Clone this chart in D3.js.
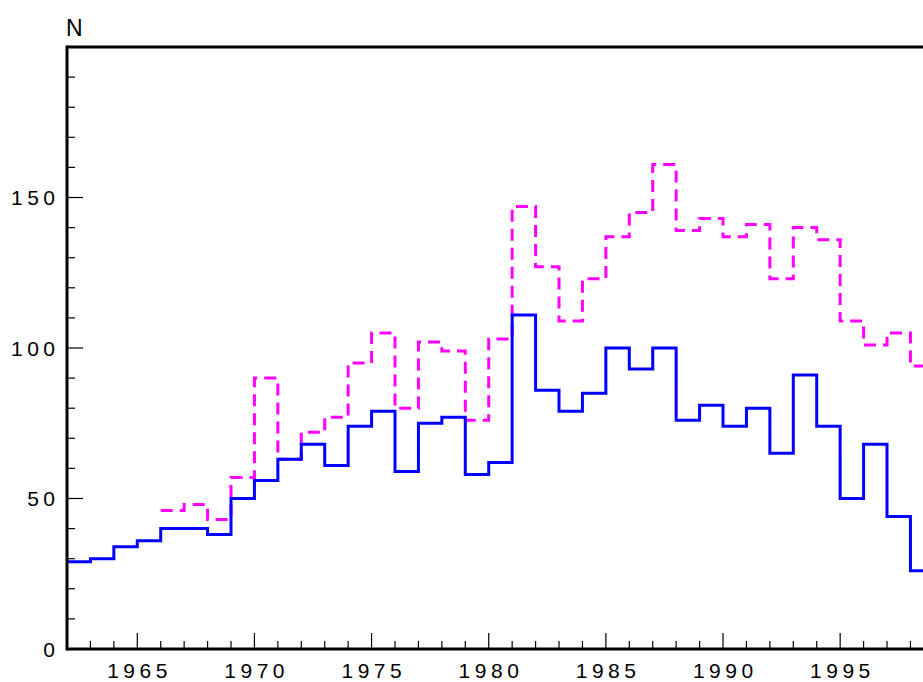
<!DOCTYPE html>
<html>
<head>
<meta charset="utf-8">
<script src="https://cdn.jsdelivr.net/npm/d3@7/dist/d3.min.js"></script>
<style>
html,body{margin:0;padding:0;background:#fff;}
svg{display:block;}
text{font-family:"Liberation Sans",Arial,sans-serif;fill:#000;}
</style>
</head>
<body>
<svg id="chart" width="923" height="682"></svg>
<script>
// Data: yearly bins (bin starts at given year)
const blueYears = d3.range(1962, 1999);
const blueValues = [29,30,34,36,40,40,38,50,56,63,68,61,74,79,59,75,77,58,62,111,86,79,85,100,93,100,76,81,74,80,65,91,74,50,68,44,26];
const magentaYears = d3.range(1966, 1999);
const magentaValues = [46,48,43,57,90,63,72,77,95,105,80,102,99,76,103,147,127,109,123,137,145,161,139,143,137,141,123,140,136,109,101,105,94];
const yTickLabels = [0, 50, 100, 150];
const xTickLabels = [1965, 1970, 1975, 1980, 1985, 1990, 1995];
const yAxisTitle = "N";

const svg = d3.select("#chart");
const x = d3.scaleLinear().domain([1962, 2000]).range([67, 957.3]);
const y = d3.scaleLinear().domain([0, 200]).range([649, 47]);

function stepPoints(years, vals) {
  const pts = years.map((yr, i) => [yr, vals[i]]);
  pts.push([years[years.length - 1] + 1, vals[vals.length - 1]]);
  return pts;
}
const line = d3.line().x(d => x(d[0])).y(d => y(d[1])).curve(d3.curveStepAfter);

// series
svg.append("path")
  .attr("d", line(stepPoints(magentaYears, magentaValues)))
  .attr("fill", "none").attr("stroke", "#ff00ff").attr("stroke-width", 3)
  .attr("stroke-dasharray", "12 7");
svg.append("path")
  .attr("d", line(stepPoints(blueYears, blueValues)))
  .attr("fill", "none").attr("stroke", "#0000ff").attr("stroke-width", 3);

// frame lines
const ax = svg.append("g").attr("stroke", "#000");
ax.append("line").attr("x1", x(1962)).attr("x2", 960).attr("y1", y(200)).attr("y2", y(200)).attr("stroke-width", 3);
ax.append("line").attr("x1", x(1962)).attr("x2", 960).attr("y1", y(0)).attr("y2", y(0)).attr("stroke-width", 3);
ax.append("line").attr("x1", x(1962)).attr("x2", x(1962)).attr("y1", y(200) - 1.5).attr("y2", y(0) + 1.5).attr("stroke-width", 3);

// y ticks
d3.range(0, 201, 10).forEach(v => {
  const major = v % 50 === 0;
  ax.append("line").attr("x1", x(1962)).attr("x2", x(1962) + (major ? 16 : 8))
    .attr("y1", y(v)).attr("y2", y(v)).attr("stroke-width", 1.2);
});
// x ticks
d3.range(1963, 2000, 1).forEach(v => {
  const major = v % 5 === 0;
  ax.append("line").attr("x1", x(v)).attr("x2", x(v))
    .attr("y1", y(0)).attr("y2", y(0) - (major ? 16 : 8)).attr("stroke-width", 1.2);
});

const ls = 4.5;
svg.append("g").selectAll("text").data(yTickLabels).join("text")
  .attr("x", 55 + ls).attr("y", d => y(d)).attr("dy", "0.36em")
  .attr("text-anchor", "end").attr("font-size", 21).attr("letter-spacing", ls)
  .text(d => d);
svg.append("g").selectAll("text").data(xTickLabels).join("text")
  .attr("x", d => x(d) + ls / 2).attr("y", 678)
  .attr("text-anchor", "middle").attr("font-size", 21).attr("letter-spacing", ls)
  .text(d => d);
svg.append("text").attr("x", 66).attr("y", 36).attr("font-size", 23).text(yAxisTitle);
</script>
</body>
</html>
